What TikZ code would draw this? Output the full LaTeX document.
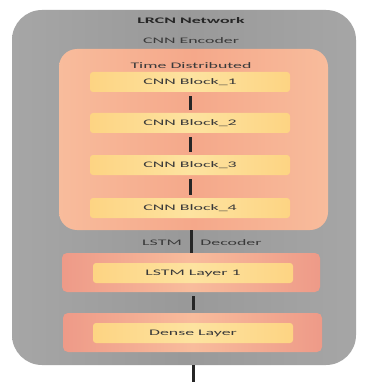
\documentclass[tikz,border=0pt]{standalone}
\usepackage{fontspec}
\setmainfont{Carlito}
\usepackage{graphicx}
\newcommand{\wtxt}[1]{\scalebox{2.1}[1]{#1}}
\definecolor{netgray}{HTML}{999999}
\definecolor{netgrayL}{HTML}{A6A6A6}
\definecolor{salmon}{HTML}{F5A88A}
\definecolor{salmonL}{HTML}{F8BC9C}
\definecolor{salmonE}{HTML}{EE9A88}
\definecolor{yel}{HTML}{FDD483}
\definecolor{yelL}{HTML}{FDE3A0}
\definecolor{txt}{HTML}{3A3A3A}
\begin{document}
\begin{tikzpicture}[x=1pt,y=-1pt,
  netbox/.style={rectangle,rounded corners=30pt,minimum width=344pt,minimum height=355pt,inner sep=0pt,
    left color=netgrayL,right color=netgrayL,middle color=netgray},
  tdbox/.style={rectangle,rounded corners=18pt,inner sep=0pt,
    left color=salmonL,right color=salmonL,middle color=salmon},
  layerbox/.style={rectangle,rounded corners=5pt,inner sep=0pt,
    left color=salmonE,right color=salmonE,middle color=salmonL},
  blk/.style={rectangle,rounded corners=3pt,minimum width=200pt,minimum height=20pt,inner sep=0pt,
    left color=yel,right color=yel,middle color=yelL,text=txt,font=\fontsize{8.5}{10}\selectfont},
  lbl/.style={text=txt,inner sep=0pt,font=\fontsize{8.5}{10}\selectfont},
  conn/.style={draw=black!85,line width=3pt},
  gapconn/.style={conn,shorten <=4pt,shorten >=3pt}]
\useasboundingbox (0,0) rectangle (369,382);
\fill[white] (0,0) rectangle (369,382);
\node[netbox] (net) at (184,187.5) {};
\node[lbl,font=\fontsize{8.5}{10}\selectfont\bfseries,text=black!85] (title) at (191,21) {\wtxt{LRCN Network}};
\node[lbl] (enc) at (191,41) {\wtxt{CNN Encoder}};
\node[tdbox,minimum width=269pt,minimum height=181pt] (td) at (193.5,139.5) {};
\node[lbl] (tdl) at (191,66) {\wtxt{Time Distributed}};
\node[blk] (b1) at (190,82) {\wtxt{CNN Block\_1}};
\node[blk] (b2) at (190,123) {\wtxt{CNN Block\_2}};
\node[blk] (b3) at (190,165) {\wtxt{CNN Block\_3}};
\node[blk] (b4) at (190,208) {\wtxt{CNN Block\_4}};
\node[lbl] (lstmlbl) at (162,243) {\wtxt{LSTM}};
\node[lbl] (declbl) at (231,243) {\wtxt{Decoder}};
\node[layerbox,minimum width=258pt,minimum height=39pt] (lo) at (191,272.5) {};
\node[blk] (l1) at (193,273) {\wtxt{LSTM Layer 1}};
\node[layerbox,minimum width=259pt,minimum height=39pt] (do) at (192.5,332.5) {};
\node[blk] (dl) at (193,333) {\wtxt{Dense Layer}};
\coordinate (out) at (193,382);
\draw[gapconn] (b1.south) -- (b2.north);
\draw[gapconn] (b2.south) -- (b3.north);
\draw[gapconn] (b3.south) -- (b4.north);
\draw[conn] (td.south -| lo.north) -- (lo.north);
\draw[gapconn] (lo.south -| l1.south) -- (do.north -| l1.south);
\draw[conn] (net.south -| out) -- (out);
\end{tikzpicture}
\end{document}
